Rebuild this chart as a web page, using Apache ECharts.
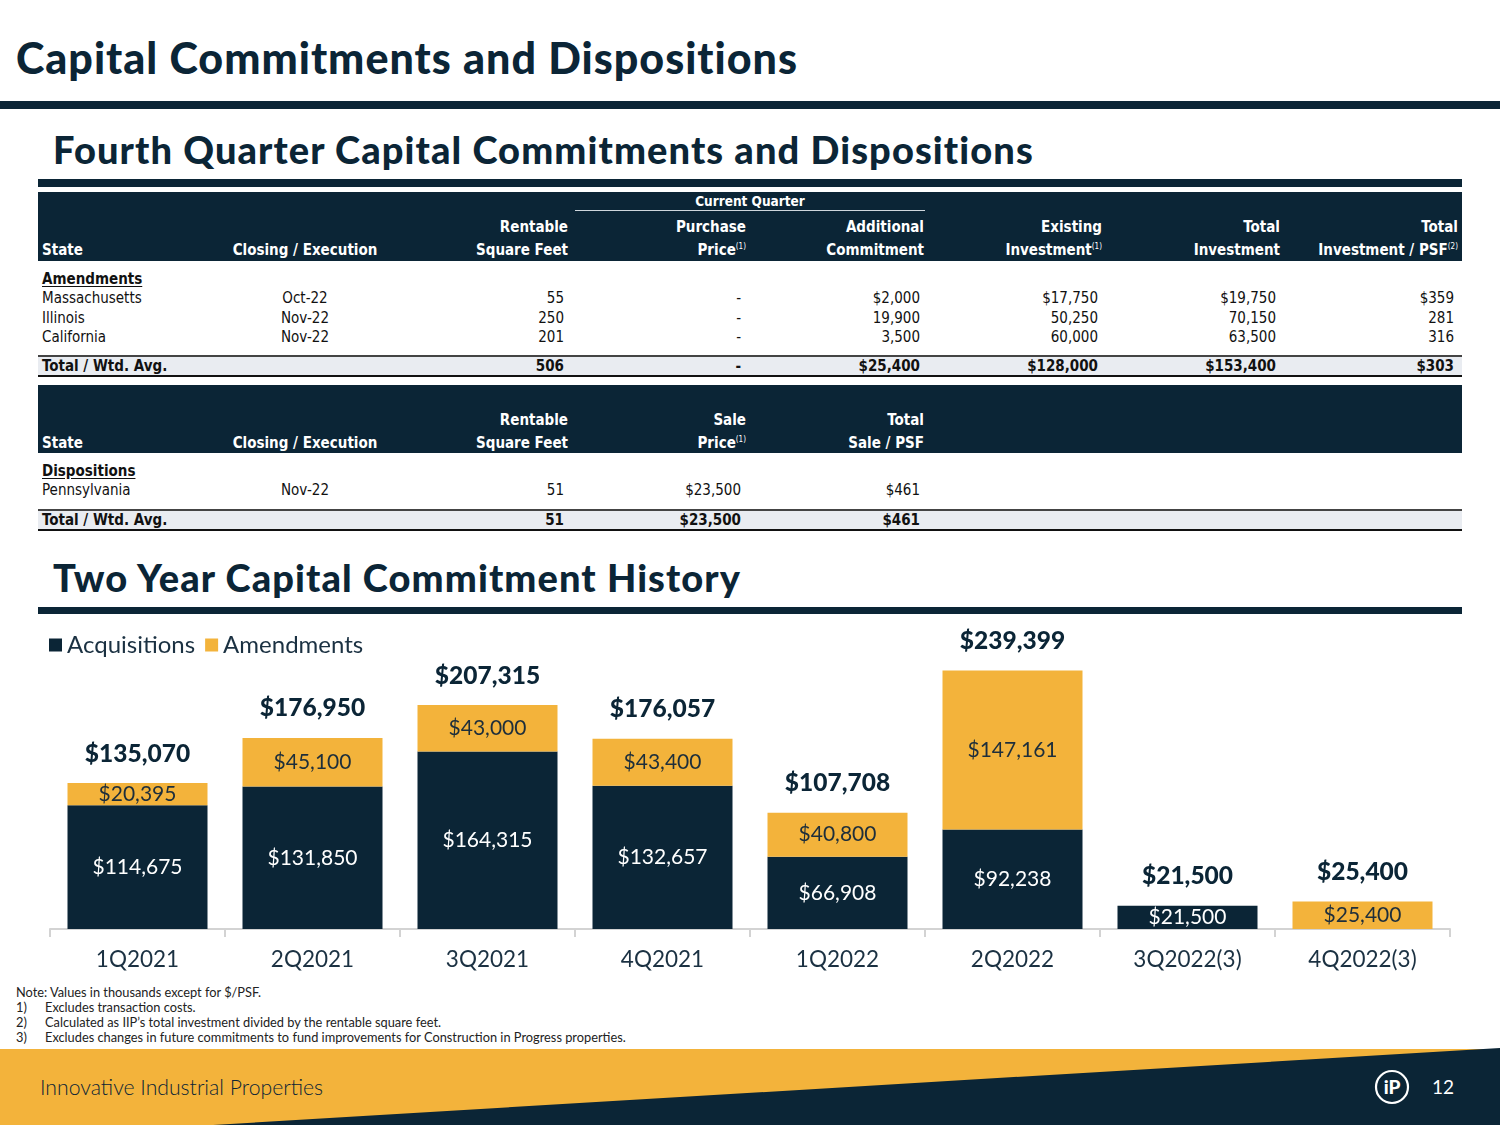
<!DOCTYPE html>
<html>
<head>
<meta charset="utf-8">
<script src="https://cdn.jsdelivr.net/npm/echarts@6/dist/echarts.min.js"></script>
<style>
  html, body { margin:0; padding:0; background:#fff; }
  #page { position:relative; width:1500px; height:1125px; overflow:hidden; font-family: Lato, "Noto Sans", sans-serif; color:#0b2536; }
  .abs { position:absolute; white-space:nowrap; }
  .h1 { font-family: Lato, "Noto Sans", sans-serif; font-weight:900; font-size:43px; letter-spacing:1px; color:#0b2536; }
  .h2 { font-family: Lato, "Noto Sans", sans-serif; font-weight:900; font-size:38px; letter-spacing:1.1px; color:#0b2536; }
  .bar { position:absolute; background:#0b2536; }
  .tbl { font-family: "Liberation Sans Narrow", "DejaVu Sans Condensed", "Noto Sans", sans-serif; font-stretch:condensed; font-size:15px; line-height:18px; color:#111; }
  .hd { font-family: "Liberation Sans Narrow", "DejaVu Sans Condensed", "Noto Sans", sans-serif; font-stretch:condensed; font-weight:bold; font-size:15px; line-height:18px; color:#fff; }
  .hd sup { font-size:8px; vertical-align: 6px; line-height:0; font-weight:normal; }
  .b { font-weight:bold; }
  .u { text-decoration:underline; text-underline-offset:2px; }
  .note { font-family: Lato, "Noto Sans", sans-serif; font-size:12.8px; line-height:15px; color:#222; }
</style>
</head>
<body>
<div id="page">
  <div class="abs h1" style="left:16px; top:32px;">Capital Commitments and Dispositions</div>
  <div class="bar" style="left:0; top:101px; width:1500px; height:8px;"></div>

  <div class="abs h2" style="left:53px; top:126px;">Fourth Quarter Capital Commitments and Dispositions</div>
  <div class="bar" style="left:38px; top:179px; width:1424px; height:8px;"></div>

  <div class="bar" style="left:38px; top:192px; width:1424px; height:69px;"></div>
  <div class="bar" style="left:38px; top:385px; width:1424px; height:68px;"></div>

  <div class="abs" style="left:38px; top:355px; width:1424px; height:2px; background:#444;"></div>
  <div class="abs" style="left:38px; top:357px; width:1424px; height:18px; background:#e9ecf1;"></div>
  <div class="abs" style="left:38px; top:375px; width:1424px; height:1.5px; background:#111;"></div>

  <div class="abs" style="left:38px; top:509px; width:1424px; height:2px; background:#444;"></div>
  <div class="abs" style="left:38px; top:511px; width:1424px; height:18px; background:#e9ecf1;"></div>
  <div class="abs" style="left:38px; top:529px; width:1424px; height:1.5px; background:#111;"></div>

  <div class="abs" style="left:575px; top:210px; width:350px; height:1px; background:#cfd6dc;"></div>

  <div id="tables"></div>

  <div class="abs h2" style="left:53px; top:554px;">Two Year Capital Commitment History</div>
  <div class="bar" style="left:38px; top:607px; width:1424px; height:7px;"></div>

  <div id="chart" style="position:absolute; left:0; top:620px; width:1500px; height:360px;"></div>

  <div class="abs note" style="left:16px; top:985px;">Note: Values in thousands except for $/PSF.</div>
  <div id="notes"></div>

  <svg class="abs" style="left:0; top:1040px;" width="1500" height="85" viewBox="0 1040 1500 85">
    <rect x="0" y="1049" width="1500" height="76" fill="#f3b33b"/>
    <polygon points="213,1125 1500,1048 1500,1125" fill="#0b2536"/>
    <circle cx="1392" cy="1087" r="16" fill="none" stroke="#fff" stroke-width="2.2"/>
    <text x="1392" y="1094" text-anchor="middle" font-family="Lato, sans-serif" font-weight="900" font-size="19" fill="#fff">iP</text>
    <text x="1443" y="1094" text-anchor="middle" font-family="Lato, sans-serif" font-size="19" fill="#fff">12</text>
  </svg>
  <div class="abs" style="left:40px; top:1074px; font-family:Lato, sans-serif; font-size:21.2px; font-weight:300; color:#0b2536;">Innovative Industrial Properties</div>
</div>

<script>
// ---------- Chart data ----------
const categories = ['1Q2021','2Q2021','3Q2021','4Q2021','1Q2022','2Q2022','3Q2022(3)','4Q2022(3)'];
const acquisitions = [114675, 131850, 164315, 132657, 66908, 92238, 21500, 0];
const amendments = [20395, 45100, 43000, 43400, 40800, 147161, 0, 25400];
const totals = [135070, 176950, 207315, 176057, 107708, 239399, 21500, 25400];
const legendNames = ['Acquisitions', 'Amendments'];

// ---------- Table data ----------
const amendHeader1 = ['', '', 'Rentable', 'Purchase', 'Additional', 'Existing', 'Total', 'Total'];
const amendHeader2 = ['State', 'Closing / Execution', 'Square Feet', 'Price<sup>(1)</sup>', 'Commitment', 'Investment<sup>(1)</sup>', 'Investment', 'Investment / PSF<sup>(2)</sup>'];
const amendRows = [
  ['Massachusetts', 'Oct-22', '55', '-', '$2,000', '$17,750', '$19,750', '$359'],
  ['Illinois', 'Nov-22', '250', '-', '19,900', '50,250', '70,150', '281'],
  ['California', 'Nov-22', '201', '-', '3,500', '60,000', '63,500', '316']
];
const amendTotal = ['Total / Wtd. Avg.', '', '506', '-', '$25,400', '$128,000', '$153,400', '$303'];
const dispHeader1 = ['', '', 'Rentable', 'Sale', 'Total'];
const dispHeader2 = ['State', 'Closing / Execution', 'Square Feet', 'Price<sup>(1)</sup>', 'Sale / PSF'];
const dispRows = [['Pennsylvania', 'Nov-22', '51', '$23,500', '$461']];
const dispTotal = ['Total / Wtd. Avg.', '', '51', '$23,500', '$461'];
const footnotes = [
  ['1)', 'Excludes transaction costs.'],
  ['2)', 'Calculated as IIP\u2019s total investment divided by the rentable square feet.'],
  ['3)', 'Excludes changes in future commitments to fund improvements for Construction in Progress properties.']
];

// ---------- Table layout ----------
const headRight = [null, null, 568, 746, 924, 1102, 1280, 1458];
const valRight = [null, null, 564, 741, 920, 1098, 1276, 1454];
const host = document.getElementById('tables');
function put(col, y, html, cls, isHead) {
  const d = document.createElement('div');
  d.className = 'abs ' + cls;
  d.innerHTML = html;
  d.style.top = (y - 9) + 'px';
  if (col === 0) { d.style.left = '42px'; }
  else if (col === 1) { d.style.left = '205px'; d.style.width = '200px'; d.style.textAlign = 'center'; }
  else {
    const r = isHead ? headRight[col] : valRight[col];
    d.style.right = (1500 - r) + 'px'; d.style.textAlign = 'right';
  }
  host.appendChild(d);
}
function row(arr, y, cls, isHead) { arr.forEach((t, i) => { if (t !== '') put(i, y, t, cls, isHead); }); }

(function(){
  const d = document.createElement('div');
  d.className = 'abs hd';
  d.style.left = '575px'; d.style.width = '350px'; d.style.textAlign = 'center';
  d.style.top = '192px'; d.style.fontSize = '13.5px';
  d.textContent = 'Current Quarter';
  host.appendChild(d);
})();
row(amendHeader1, 227, 'hd', true);
row(amendHeader2, 250, 'hd', true);
put(0, 279, 'Amendments', 'tbl b u', false);
amendRows.forEach((r, i) => row(r, 298 + i * 19.5, 'tbl', false));
row(amendTotal, 366, 'tbl b', false);

row(dispHeader1, 420, 'hd', true);
row(dispHeader2, 443, 'hd', true);
put(0, 471, 'Dispositions', 'tbl b u', false);
dispRows.forEach((r, i) => row(r, 490 + i * 19.5, 'tbl', false));
row(dispTotal, 520, 'tbl b', false);

const notesHost = document.getElementById('notes');
footnotes.forEach((f, i) => {
  const a = document.createElement('div');
  a.className = 'abs note'; a.style.left = '16px'; a.style.top = (1000 + i * 15) + 'px'; a.textContent = f[0];
  const b = document.createElement('div');
  b.className = 'abs note'; b.style.left = '45px'; b.style.top = (1000 + i * 15) + 'px'; b.textContent = f[1];
  notesHost.appendChild(a); notesHost.appendChild(b);
});

// ---------- Chart ----------
const NAVY = '#0b2536', GOLD = '#f3b33b', TXT = '#1b3142';
const fmt = v => '$' + Number(v).toLocaleString('en-US');
const chart = echarts.init(document.getElementById('chart'));
chart.setOption({
  animation: false,
  textStyle: { fontFamily: 'Lato, "Noto Sans", sans-serif' },
  legend: {
    data: legendNames, left: 44, top: 8, icon: 'rect', itemWidth: 13, itemHeight: 13, itemGap: 10,
    textStyle: { fontSize: 24, color: TXT, fontFamily: 'Lato, sans-serif' }
  },
  grid: { left: 50, right: 50, top: 39, height: 270 },
  xAxis: {
    type: 'category', data: categories,
    axisLine: { lineStyle: { color: '#d3d3d3', width: 2 } },
    axisTick: { show: true, length: 8, lineStyle: { color: '#d3d3d3', width: 2 } },
    axisLabel: { fontSize: 22.5, color: TXT, margin: 19, fontFamily: 'Lato, sans-serif' }
  },
  yAxis: { type: 'value', min: 0, max: 250000, show: false, splitLine: { show: false } },
  series: [
    {
      name: 'Acquisitions', type: 'bar', stack: 'a', barWidth: '80%', data: acquisitions,
      itemStyle: { color: NAVY },
      label: { show: true, position: 'inside', color: '#fff', fontSize: 21, fontFamily: 'Lato, sans-serif',
        formatter: p => p.value ? fmt(p.value) : '' }
    },
    {
      name: 'Amendments', type: 'bar', stack: 'a', barWidth: '80%', data: amendments,
      itemStyle: { color: GOLD },
      label: { show: true, position: 'inside', color: '#1d2e3b', fontSize: 21, fontFamily: 'Lato, sans-serif',
        formatter: p => p.value ? fmt(p.value) : '' }
    },
    {
      name: 'Total', type: 'bar', stack: 'a', barWidth: '80%', data: totals.map(() => 0),
      itemStyle: { color: 'transparent' },
      label: { show: true, position: 'top', distance: 17, color: NAVY, fontSize: 24.5, fontWeight: 900,
        fontFamily: 'Lato, sans-serif', formatter: p => fmt(totals[p.dataIndex]) }
    }
  ]
});
</script>
</body>
</html>
